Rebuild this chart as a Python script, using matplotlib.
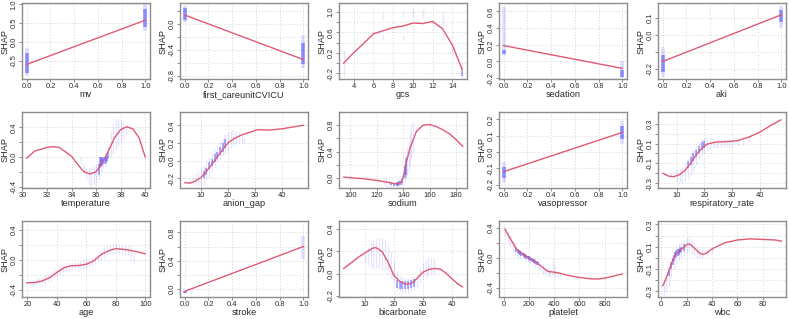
import numpy as np
import matplotlib.pyplot as plt

plt.rcParams['font.family'] = ['Liberation Sans', 'DejaVu Sans']

# ---------------- data ---------------- #
# binary features: fitted line at 0 and 1, light spread and dense core of points
mv_line = [-0.60, 0.58]
mv_lo, mv_hi = [-0.92, 0.30], [-0.15, 1.00]
mv_core_lo, mv_core_hi = [-0.82, 0.40], [-0.30, 0.88]

cvicu_line = [0.135, -0.55]
cvicu_lo, cvicu_hi = [0.03, -0.68], [0.28, -0.18]
cvicu_core_lo, cvicu_core_hi = [0.06, -0.62], [0.25, -0.30]

sed_line = [0.19, -0.083]
sed_lo, sed_hi = [0.08, -0.20], [0.65, 0.00]
sed_core_lo, sed_core_hi = [0.09, -0.19], [0.14, -0.10]

aki_line = [-0.156, 0.12]
aki_lo, aki_hi = [-0.25, 0.04], [-0.07, 0.17]
aki_core_lo, aki_core_hi = [-0.22, 0.08], [-0.12, 0.15]

vaso_line = [-0.12, 0.12]
vaso_lo, vaso_hi = [-0.19, 0.05], [-0.06, 0.19]
vaso_core_lo, vaso_core_hi = [-0.16, 0.08], [-0.09, 0.16]

stroke_line = [-0.03, 0.60]
stroke_lo, stroke_hi = [-0.06, 0.42], [-0.03, 0.75]
stroke_core_lo, stroke_core_hi = [-0.06, 0.50], [-0.03, 0.62]

# gcs
gcs_line_x = [3, 4, 5, 6, 7, 8, 9, 10, 11, 12, 13, 14, 15]
gcs_line_y = [0.0, 0.2, 0.38, 0.57, 0.63, 0.69, 0.72, 0.78, 0.77, 0.81, 0.67, 0.35, -0.13]
gcs_pt_x = [3, 7, 7, 9, 9, 10, 11, 13, 13, 14, 15]
gcs_pt_lo = [-0.25, 0.85, 0.45, 0.9, 0.45, 0.88, 0.87, 0.72, 0.45, 0.17, -0.27]
gcs_pt_hi = [0.25, 0.95, 0.55, 1.02, 0.55, 1.05, 1.05, 1.02, 0.58, 0.42, 0.02]
gcs_core_x = [15]
gcs_core_lo = [-0.26]
gcs_core_hi = [-0.15]

# temperature
temp_line_x = [30.36, 31, 32, 32.5, 33, 34, 34.5, 35, 35.5, 36, 36.5, 37, 37.5, 38, 38.5, 39, 39.5, 40]
temp_line_y = [-0.015, 0.08, 0.13, 0.14, 0.13, 0.01, -0.1, -0.2, -0.23, -0.2, -0.08, 0.08, 0.26, 0.37, 0.41, 0.38, 0.26, 0.0]
temp_pt_x = [34.8, 35.0, 35.2, 35.4, 35.6, 35.8, 36.0, 36.2, 36.4, 36.6, 36.8, 37.0, 37.2, 37.4, 37.6, 37.8, 38.0, 38.2, 38.4]
temp_pt_lo = [-0.1, -0.2, -0.3, -0.38, -0.4, -0.38, -0.35, -0.3, -0.2, -0.15, -0.12, -0.05, 0.0, 0.05, 0.1, 0.15, 0.2, 0.25, 0.3]
temp_pt_hi = [0.0, -0.1, -0.15, -0.15, -0.15, -0.12, -0.1, -0.05, 0.0, 0.0, 0.05, 0.15, 0.35, 0.45, 0.5, 0.52, 0.5, 0.48, 0.45]
temp_core_x = [36.2, 36.3, 36.4, 36.5, 36.6, 36.7, 36.8, 36.9, 37.0]
temp_core_lo = [-0.25, -0.15, -0.12, -0.12, -0.1, -0.1, -0.08, -0.05, -0.02]
temp_core_hi = [-0.1, 0.0, 0.0, -0.02, 0.0, -0.02, 0.0, 0.02, 0.05]

# anion_gap
ag_line_x = [4, 6, 8, 10, 12, 14, 16, 18, 20, 22, 25, 28, 31, 35, 40, 45, 48]
ag_line_y = [-0.25, -0.255, -0.23, -0.19, -0.12, -0.045, 0.04, 0.125, 0.2, 0.245, 0.29, 0.32, 0.35, 0.345, 0.36, 0.385, 0.4]
ag_pt_x = list(range(6, 27))
ag_pt_lo = [-0.27, -0.27, -0.28, -0.29, -0.3, -0.28, -0.22, -0.18, -0.12, -0.08, -0.02, 0.02, 0.05, 0.08, 0.1, 0.14, 0.16, 0.18, 0.2, 0.2, 0.2]
ag_pt_hi = [-0.2, -0.17, -0.15, -0.12, -0.08, -0.05, -0.02, 0.03, 0.08, 0.12, 0.17, 0.22, 0.26, 0.3, 0.32, 0.34, 0.35, 0.33, 0.32, 0.3, 0.28]
ag_core_x = [11, 12, 13, 14, 15, 16, 17, 18, 19]
ag_core_lo = [-0.2, -0.16, -0.1, -0.06, -0.02, 0.02, 0.06, 0.1, 0.14]
ag_core_hi = [-0.12, -0.08, -0.02, 0.02, 0.07, 0.1, 0.15, 0.2, 0.24]

# sodium
na_line_x = [95, 100, 110, 120, 130, 135, 138, 140, 142, 145, 150, 155, 160, 165, 170, 175, 180, 185]
na_line_y = [0.015, 0.005, -0.01, -0.035, -0.07, -0.09, -0.07, 0.015, 0.22, 0.45, 0.71, 0.8, 0.81, 0.78, 0.73, 0.67, 0.58, 0.48]
na_pt_x = [125, 127, 129, 131, 133, 135, 137, 139, 141, 142, 143, 144, 145, 146, 147]
na_pt_lo = [-0.1, -0.12, -0.13, -0.14, -0.15, -0.15, -0.14, -0.1, -0.05, 0.0, 0.05, 0.1, 0.2, 0.3, 0.4]
na_pt_hi = [-0.02, 0.0, -0.03, -0.04, -0.05, -0.05, -0.02, 0.05, 0.25, 0.35, 0.45, 0.55, 0.7, 0.8, 0.85]
na_core_x = [131, 133, 135, 136, 137, 138, 139, 141, 142]
na_core_lo = [-0.11, -0.12, -0.12, -0.12, -0.11, -0.1, -0.08, 0.0, 0.05]
na_core_hi = [-0.07, -0.07, -0.06, -0.06, -0.05, -0.04, -0.02, 0.2, 0.3]

# respiratory_rate
rr_line_x = [5, 7, 9, 11, 13, 15, 17, 19, 21, 24, 28, 32, 36, 40, 44, 47.7]
rr_line_y = [-0.2, -0.23, -0.235, -0.215, -0.17, -0.1, -0.015, 0.05, 0.095, 0.115, 0.12, 0.13, 0.165, 0.215, 0.285, 0.34]
rr_pt_x = [8, 10, 11, 12, 13, 14, 15, 16, 17, 18, 19, 20, 21, 22, 23, 24, 25, 26, 27, 28, 29, 30, 32, 34, 36]
rr_pt_lo = [-0.24, -0.28, -0.29, -0.3, -0.28, -0.26, -0.22, -0.18, -0.12, -0.06, -0.02, 0.0, 0.03, 0.05, 0.06, 0.06, 0.06, 0.06, 0.07, 0.07, 0.07, 0.07, 0.08, 0.1, 0.12]
rr_pt_hi = [-0.2, -0.18, -0.16, -0.14, -0.1, -0.05, 0.0, 0.03, 0.08, 0.12, 0.15, 0.16, 0.16, 0.16, 0.16, 0.15, 0.15, 0.15, 0.15, 0.15, 0.15, 0.15, 0.16, 0.17, 0.18]
rr_core_x = [14, 15, 16, 17, 18, 19, 20]
rr_core_lo = [-0.15, -0.12, -0.08, -0.04, 0.0, 0.03, 0.06]
rr_core_hi = [-0.08, -0.04, 0.0, 0.04, 0.08, 0.12, 0.13]

# age
age_line_x = [19.5, 25, 30, 35, 40, 45, 50, 55, 60, 65, 70, 75, 80, 85, 90, 95, 100]
age_line_y = [-0.31, -0.305, -0.285, -0.24, -0.17, -0.105, -0.08, -0.077, -0.06, -0.015, 0.07, 0.12, 0.15, 0.14, 0.125, 0.105, 0.08]
age_pt_x = list(range(22, 94, 2))
age_pt_lo = [-0.34, -0.35, -0.34, -0.33, -0.33, -0.32, -0.3, -0.28, -0.25, -0.22, -0.2, -0.17, -0.15, -0.14, -0.13, -0.13,
             -0.13, -0.12, -0.12, -0.11, -0.1, -0.08, -0.06, -0.03, 0.0, 0.04, 0.06, 0.08, 0.08, 0.09, 0.09, 0.08, 0.07, 0.06, 0.0, -0.05]
age_pt_hi = [-0.28, -0.27, -0.26, -0.25, -0.23, -0.21, -0.19, -0.17, -0.14, -0.12, -0.09, -0.07, -0.05, -0.04, -0.04, -0.03,
             -0.03, -0.02, -0.01, 0.0, 0.01, 0.03, 0.05, 0.08, 0.12, 0.17, 0.19, 0.2, 0.21, 0.21, 0.2, 0.2, 0.19, 0.18, 0.17, 0.12]

# bicarbonate
hco3_line_x = [2.7, 5, 8, 11, 13, 14, 16, 18, 20, 22, 24, 26, 28, 30, 32, 34, 36, 38, 40, 42, 43.7]
hco3_line_y = [0.045, 0.09, 0.15, 0.2, 0.23, 0.23, 0.195, 0.105, -0.015, -0.07, -0.095, -0.09, -0.045, 0.01, 0.035, 0.045, 0.04, 0.005, -0.045, -0.09, -0.12]
hco3_pt_x = list(range(10, 35))
hco3_pt_lo = [0.1, 0.08, 0.06, 0.05, 0.05, 0.04, 0.03, 0.02, 0.0, -0.04, -0.08, -0.15, -0.16, -0.17, -0.17, -0.17, -0.16, -0.15, -0.12, -0.08, -0.05, -0.03, -0.02, 0.0, 0.0]
hco3_pt_hi = [0.2, 0.24, 0.28, 0.3, 0.32, 0.33, 0.32, 0.3, 0.26, 0.2, 0.12, 0.02, -0.02, -0.03, -0.04, -0.04, -0.03, -0.02, 0.0, 0.05, 0.1, 0.12, 0.15, 0.15, 0.14]
hco3_core_x = [21, 22, 23, 24, 25, 26, 27]
hco3_core_lo = [-0.13, -0.14, -0.14, -0.14, -0.14, -0.13, -0.12]
hco3_core_hi = [-0.06, -0.07, -0.07, -0.07, -0.07, -0.06, -0.05]

# platelet
plt_line_x = [10, 50, 100, 150, 200, 250, 300, 350, 400, 450, 500, 600, 700, 750, 800, 900, 940]
plt_line_y = [0.38, 0.26, 0.12, 0.055, 0.0, -0.05, -0.115, -0.18, -0.19, -0.205, -0.23, -0.26, -0.28, -0.28, -0.27, -0.23, -0.215]
plt_pt_x = list(range(10, 460, 20))
plt_pt_lo = [0.28, 0.2, 0.15, 0.08, 0.04, 0.01, 0.0, -0.02, -0.04, -0.05, -0.07, -0.1, -0.12, -0.15, -0.17, -0.2, -0.22, -0.24, -0.26, -0.25, -0.26, -0.26, -0.26]
plt_pt_hi = [0.42, 0.36, 0.3, 0.22, 0.16, 0.12, 0.1, 0.08, 0.06, 0.04, 0.03, 0.0, -0.02, -0.04, -0.06, -0.08, -0.12, -0.14, -0.16, -0.02, -0.1, -0.18, -0.2]
plt_core_x = list(range(100, 280, 10))
plt_core_lo = [0.08, 0.06, 0.05, 0.04, 0.03, 0.02, 0.01, 0.0, -0.01, -0.02, -0.03, -0.04, -0.05, -0.06, -0.07, -0.08, -0.09, -0.1]
plt_core_hi = [0.14, 0.12, 0.1, 0.09, 0.08, 0.07, 0.06, 0.05, 0.04, 0.03, 0.02, 0.01, 0.0, -0.01, -0.02, -0.03, -0.04, -0.05]

# wbc
wbc_line_x = [1.3, 3, 5, 8, 10, 12, 15, 18, 21, 23, 26, 30, 33, 36, 40, 50, 60, 70, 80, 90, 94.5]
wbc_line_y = [-0.25, -0.21, -0.15, -0.06, 0.0, 0.04, 0.07, 0.095, 0.125, 0.12, 0.09, 0.045, 0.03, 0.045, 0.08, 0.135, 0.16, 0.17, 0.165, 0.16, 0.15]
wbc_pt_x = [2, 4, 6, 8, 10, 12, 14, 16, 18, 20, 22, 24, 26, 28, 30, 32, 36, 40]
wbc_pt_lo = [-0.33, -0.3, -0.25, -0.18, -0.1, -0.05, -0.02, 0.0, 0.02, 0.04, 0.06, 0.04, 0.02, 0.0, 0.0, 0.0, 0.02, 0.05]
wbc_pt_hi = [-0.2, -0.15, -0.08, -0.02, 0.05, 0.1, 0.12, 0.14, 0.16, 0.18, 0.19, 0.16, 0.12, 0.1, 0.08, 0.07, 0.08, 0.1]
wbc_core_x = [6, 8, 9, 10, 11, 12, 13, 14, 15, 16, 18]
wbc_core_lo = [-0.16, -0.1, -0.06, -0.03, 0.0, 0.01, 0.02, 0.03, 0.04, 0.05, 0.06]
wbc_core_hi = [-0.1, -0.04, 0.0, 0.03, 0.05, 0.07, 0.08, 0.08, 0.09, 0.1, 0.12]

# ---------------- panel setup ---------------- #
bin_x = [0, 1]
bin_ticks = [0.0, 0.2, 0.4, 0.6, 0.8, 1.0]

def lab(vals, keep):
    return ['%.1f' % v if v in keep else '' for v in vals]

panels = [
    # name, line x, line y, pts (x, lo, hi), core (x, lo, hi), binary, xticks, xlim, yticks, ylabels, ylim
    ('mv', bin_x, mv_line, (bin_x, mv_lo, mv_hi), (bin_x, mv_core_lo, mv_core_hi), True,
     bin_ticks, (-0.04, 1.04), [-0.5, 0.0, 0.5, 1.0], ['-0.5', '0.0', '0.5', '1.0'], (-0.99, 1.04)),
    ('first_careunitCVICU', bin_x, cvicu_line, (bin_x, cvicu_lo, cvicu_hi), (bin_x, cvicu_core_lo, cvicu_core_hi), True,
     bin_ticks, (-0.04, 1.04), [-0.8, -0.6, -0.4, -0.2, 0.0, 0.2], lab([-0.8, -0.6, -0.4, -0.2, 0.0, 0.2], [-0.8, -0.4, 0.0]), (-0.85, 0.32)),
    ('gcs', gcs_line_x, gcs_line_y, (gcs_pt_x, gcs_pt_lo, gcs_pt_hi), (gcs_core_x, gcs_core_lo, gcs_core_hi), False,
     [4, 6, 8, 10, 12, 14], (2.52, 15.48), [-0.2, 0.0, 0.2, 0.4, 0.6, 0.8, 1.0], lab([-0.2, 0.0, 0.2, 0.4, 0.6, 0.8, 1.0], [-0.2, 0.2, 0.6, 1.0]), (-0.31, 1.17)),
    ('sedation', bin_x, sed_line, (bin_x, sed_lo, sed_hi), (bin_x, sed_core_lo, sed_core_hi), True,
     bin_ticks, (-0.04, 1.04), [-0.2, 0.0, 0.2, 0.4, 0.6], ['-0.2', '0.0', '0.2', '0.4', '0.6'], (-0.21, 0.70)),
    ('aki', bin_x, aki_line, (bin_x, aki_lo, aki_hi), (bin_x, aki_core_lo, aki_core_hi), True,
     bin_ticks, (-0.04, 1.04), [-0.2, -0.1, 0.0, 0.1], ['-0.2', '', '0.0', '0.1'], (-0.26, 0.19)),
    ('temperature', temp_line_x, temp_line_y, (temp_pt_x, temp_pt_lo, temp_pt_hi), (temp_core_x, temp_core_lo, temp_core_hi), False,
     [30, 32, 34, 36, 38, 40], (29.97, 40.39), [-0.4, -0.2, 0.0, 0.2, 0.4], lab([-0.4, -0.2, 0.0, 0.2, 0.4], [-0.4, 0.0, 0.4]), (-0.42, 0.61)),
    ('anion_gap', ag_line_x, ag_line_y, (ag_pt_x, ag_pt_lo, ag_pt_hi), (ag_core_x, ag_core_lo, ag_core_hi), False,
     [10, 20, 30, 40], (2.2, 49.6), [-0.2, 0.0, 0.2, 0.4], ['-0.2', '0.0', '0.2', '0.4'], (-0.31, 0.55)),
    ('sodium', na_line_x, na_line_y, (na_pt_x, na_pt_lo, na_pt_hi), (na_core_x, na_core_lo, na_core_hi), False,
     [100, 120, 140, 160, 180], (91.3, 188.2), [0.0, 0.2, 0.4, 0.6, 0.8], lab([0.0, 0.2, 0.4, 0.6, 0.8], [0.0, 0.4, 0.8]), (-0.15, 1.0)),
    ('vasopressor', bin_x, vaso_line, (bin_x, vaso_lo, vaso_hi), (bin_x, vaso_core_lo, vaso_core_hi), True,
     bin_ticks, (-0.04, 1.04), [-0.2, -0.1, 0.0, 0.1, 0.2], ['-0.2', '-0.1', '0.0', '0.1', '0.2'], (-0.22, 0.245)),
    ('respiratory_rate', rr_line_x, rr_line_y, (rr_pt_x, rr_pt_lo, rr_pt_hi), (rr_core_x, rr_core_lo, rr_core_hi), False,
     [10, 20, 30, 40], (3.2, 49.5), [-0.3, -0.2, -0.1, 0.0, 0.1, 0.2, 0.3], lab([-0.3, -0.2, -0.1, 0.0, 0.1, 0.2, 0.3], [-0.3, -0.1, 0.1, 0.3]), (-0.35, 0.42)),
    ('age', age_line_x, age_line_y, (age_pt_x, age_pt_lo, age_pt_hi), None, False,
     [20, 40, 60, 80, 100], (16.3, 103.2), [-0.4, -0.2, 0.0, 0.2, 0.4], lab([-0.4, -0.2, 0.0, 0.2, 0.4], [-0.4, 0.0, 0.4]), (-0.5, 0.52)),
    ('stroke', bin_x, stroke_line, (bin_x, stroke_lo, stroke_hi), ([0], [stroke_core_lo[0]], [stroke_core_hi[0]]), True,
     bin_ticks, (-0.04, 1.04), [0.0, 0.2, 0.4, 0.6, 0.8], lab([0.0, 0.2, 0.4, 0.6, 0.8], [0.0, 0.4, 0.8]), (-0.11, 0.96)),
    ('bicarbonate', hco3_line_x, hco3_line_y, (hco3_pt_x, hco3_pt_lo, hco3_pt_hi), (hco3_core_x, hco3_core_lo, hco3_core_hi), False,
     [10, 20, 30, 40], (1.1, 45.3), [-0.2, 0.0, 0.2, 0.4], ['-0.2', '0.0', '0.2', '0.4'], (-0.21, 0.47)),
    ('platelet', plt_line_x, plt_line_y, (plt_pt_x, plt_pt_lo, plt_pt_hi), (plt_core_x, plt_core_lo, plt_core_hi), False,
     [0, 200, 400, 600, 800], (-38, 978), [-0.4, -0.2, 0.0, 0.2, 0.4], lab([-0.4, -0.2, 0.0, 0.2, 0.4], [-0.4, 0.0, 0.4]), (-0.52, 0.49)),
    ('wbc', wbc_line_x, wbc_line_y, (wbc_pt_x, wbc_pt_lo, wbc_pt_hi), (wbc_core_x, wbc_core_lo, wbc_core_hi), False,
     [0, 20, 40, 60, 80], (-2.4, 98.2), [-0.3, -0.2, -0.1, 0.0, 0.1, 0.2, 0.3], lab([-0.3, -0.2, -0.1, 0.0, 0.1, 0.2, 0.3], [-0.3, -0.1, 0.1, 0.3]), (-0.35, 0.33)),
]

W, H = 789, 319
col_left = [22, 180, 339, 499, 658]
row_top = [3, 112, 221]
ax_w, ax_h = 128, 76

LINE = '#e05a74'
DOT = '#2a2aff'
BOX = '#8c8c8c'
TXT = '#2a2a2a'

fig = plt.figure(figsize=(W / 100, H / 100), dpi=100)

for i, p in enumerate(panels):
    name, lx, ly, pts, core, binary, xt, xlim, yt, yl, ylim = p
    r, c = divmod(i, 5)
    ax = fig.add_axes([col_left[c] / W, 1 - (row_top[r] + ax_h) / H, ax_w / W, ax_h / H])

    # point clouds drawn as vertical streaks (the feature values are discrete)
    ax.vlines(pts[0], pts[1], pts[2], color=DOT, alpha=0.12 if not binary else 0.15,
              lw=2.6 if binary else 0.9, zorder=2)
    if core is not None:
        ax.vlines(core[0], core[1], core[2], color=DOT, alpha=0.45,
                  lw=2.6 if binary else 1.2, zorder=3)

    ax.plot(lx, ly, color=LINE, lw=1.0, zorder=4)

    ax.set_xlim(xlim)
    ax.set_ylim(ylim)
    ax.set_xticks(xt)
    if binary:
        ax.set_xticklabels(['%.1f' % v for v in xt])
    ax.set_yticks(yt)
    ax.set_yticklabels(yl, rotation=90, va='center')
    ax.grid(True, color='#d4d4d4', ls=(0, (1, 2)), lw=0.7)
    ax.set_axisbelow(True)
    for s in ax.spines.values():
        s.set_color(BOX)
        s.set_linewidth(1.0)
    ax.tick_params(length=2.2, width=0.7, color=BOX, labelsize=5.4, labelcolor=TXT, pad=1.0)
    ax.set_xlabel(name, fontsize=6.6, color=TXT, labelpad=0.0)
    ax.set_ylabel('SHAP', fontsize=6.6, color=TXT, labelpad=0.8)

fig.savefig('out.png', dpi=100)
